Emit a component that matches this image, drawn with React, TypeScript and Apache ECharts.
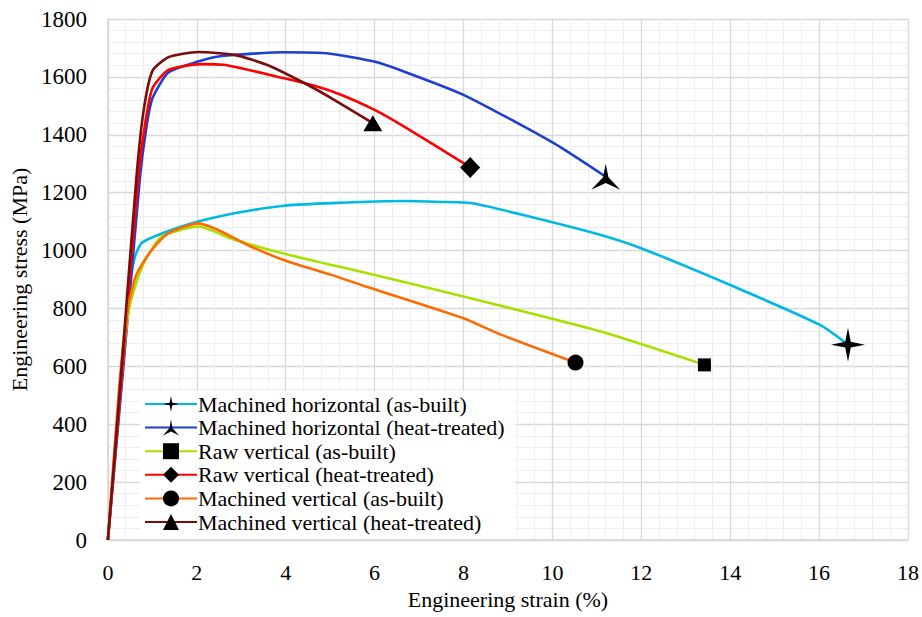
import React, { useEffect, useRef } from "react";
import * as echarts from "echarts";

const seriesNames = [
  "Machined horizontal (as-built)",
  "Machined horizontal (heat-treated)",
  "Raw vertical (as-built)",
  "Raw vertical (heat-treated)",
  "Machined vertical (as-built)",
  "Machined vertical (heat-treated)",
];

const mhAbX = [0, 0.3, 0.5, 0.6, 0.76, 1.2, 2.03, 3.0, 3.97, 5.03, 5.7, 6.6, 7.5, 8.17, 9.5, 11.09, 11.98, 14.0, 16.02, 16.65];
const mhAbY = [0, 560, 880, 975, 1026, 1058, 1100, 1133, 1155, 1164, 1168, 1171, 1168, 1164, 1117, 1054, 1009, 881, 743, 675];

const mhHtX = [0, 0.36, 0.72, 0.86, 1.0, 1.36, 2.03, 2.56, 3.97, 5.0, 5.99, 6.6, 8.0, 10.03, 11.2];
const mhHtY = [0, 620, 1250, 1420, 1525, 1615, 1653, 1672, 1685, 1680, 1653, 1622, 1538, 1371, 1255];

const rvAbX = [0, 0.28, 0.46, 0.62, 0.84, 1.21, 2.03, 2.85, 4.0, 5.03, 5.7, 8.0, 11.09, 13.42];
const rvAbY = [0, 520, 784, 880, 967, 1048, 1083, 1037, 988, 950, 927, 841, 720, 605];

const rvHtX = [0, 0.34, 0.68, 0.84, 1.0, 1.36, 2.1, 2.6, 3.97, 4.65, 5.3, 6.0, 6.6, 8.0, 8.15];
const rvHtY = [0, 620, 1250, 1440, 1560, 1624, 1644, 1642, 1595, 1569, 1535, 1486, 1434, 1302, 1287];

const mvAbX = [0, 0.25, 0.43, 0.6, 0.7, 0.99, 1.36, 2.03, 2.48, 3.23, 4.05, 5.03, 5.7, 8.0, 8.77, 10.52];
const mvAbY = [0, 520, 784, 900, 935, 1002, 1060, 1094, 1071, 1013, 962, 916, 881, 766, 714, 613];

const mvHtX = [0, 0.32, 0.64, 0.8, 1.0, 1.36, 2.03, 2.85, 3.6, 4.5, 5.1, 5.96];
const mvHtY = [0, 620, 1250, 1480, 1620, 1668, 1686, 1676, 1640, 1572, 1520, 1440];

const xTicks = [0, 2, 4, 6, 8, 10, 12, 14, 16, 18];
const yTicks = [0, 200, 400, 600, 800, 1000, 1200, 1400, 1600, 1800];

const STAR4 = "path://M0,-16 L2.6,-2.6 L16,0 L2.6,2.6 L0,16 L-2.6,2.6 L-16,0 L-2.6,-2.6 Z";
const STAR3 = "path://M0,-14 L2.6,-1 L14,11 L0,4.5 L-14,11 L-2.6,-1 Z";

const styles = [
  { color: "#00b8e4", symbol: STAR4, size: [34, 34] },
  { color: "#1c3fd0", symbol: STAR3, size: [29, 26] },
  { color: "#a8e000", symbol: "rect", size: [13, 13] },
  { color: "#ff0000", symbol: "diamond", size: [20, 21] },
  { color: "#ff6a00", symbol: "circle", size: [16, 16] },
  { color: "#7a0c0c", symbol: "triangle", size: [19, 16] },
];

const allX = [mhAbX, mhHtX, rvAbX, rvHtX, mvAbX, mvHtX];
const allY = [mhAbY, mhHtY, rvAbY, rvHtY, mvAbY, mvHtY];

const FONT = "Liberation Serif";

export default function App() {
  const ref = useRef<HTMLDivElement>(null);
  useEffect(() => {
    if (!ref.current) return;
    const chart = echarts.init(ref.current, undefined, { renderer: "svg" });
    const series = seriesNames.map((name, si) => {
      const xs = allX[si];
      const ys = allY[si];
      const last = xs.length - 1;
      return {
        name,
        type: "line",
        smooth: 0.2,
        symbol: styles[si].symbol,
        symbolSize: styles[si].size,
        showSymbol: true,
        lineStyle: { color: styles[si].color, width: 2.6 },
        itemStyle: { color: "#000000" },
        z: 2 + si,
        data: xs.map((x, i) =>
          i === last ? { value: [x, ys[i]] } : { value: [x, ys[i]], symbol: "none" }
        ),
      };
    });
    chart.setOption({
      animation: false,
      backgroundColor: "#ffffff",
      textStyle: { fontFamily: FONT },
      grid: { left: 106, right: 14, top: 19, bottom: 77, containLabel: false },
      legend: {
        orient: "vertical",
        left: 140,
        top: 391,
        padding: [2, 10, 6, 4],
        backgroundColor: "#ffffff",
        itemWidth: 52,
        itemHeight: 20,
        itemGap: 1.6,
        data: seriesNames,
        textStyle: { fontFamily: FONT, fontSize: 22, lineHeight: 20, color: "#000000", padding: [0, 0, 0, -4] },
      },
      xAxis: {
        type: "value",
        min: xTicks[0],
        max: xTicks[xTicks.length - 1],
        interval: 2,
        name: "Engineering strain (%)",
        nameLocation: "middle",
        nameGap: 48,
        nameTextStyle: { fontFamily: FONT, fontSize: 22, color: "#000000" },
        axisLine: { show: true, lineStyle: { color: "#d4d4d4", width: 1.5 } },
        axisTick: { show: false },
        axisLabel: { fontFamily: FONT, fontSize: 22, color: "#000000", margin: 21 },
        splitLine: { show: true, lineStyle: { color: "#d9d9d9", width: 1.3 } },
        minorTick: { show: false, splitNumber: 5 },
        minorSplitLine: { show: true, lineStyle: { color: "#eeeeee", width: 1 } },
      },
      yAxis: {
        type: "value",
        min: yTicks[0],
        max: yTicks[yTicks.length - 1],
        interval: 200,
        name: "Engineering stress (MPa)",
        nameLocation: "middle",
        nameGap: 77,
        nameTextStyle: { fontFamily: FONT, fontSize: 22, color: "#000000" },
        axisLine: { show: true, lineStyle: { color: "#d4d4d4", width: 1.5 } },
        axisTick: { show: false },
        axisLabel: {
          fontFamily: FONT,
          fontSize: 23,
          color: "#000000",
          margin: 21,
          formatter: (v: number) => String(v),
        },
        splitLine: { show: true, lineStyle: { color: "#d9d9d9", width: 1.3 } },
        minorTick: { show: false, splitNumber: 5 },
        minorSplitLine: { show: true, lineStyle: { color: "#eeeeee", width: 1 } },
      },
      series,
    });
    return () => chart.dispose();
  }, []);
  return <div ref={ref} style={{ width: 922, height: 617, position: "absolute", left: 0, top: 0 }} />;
}
